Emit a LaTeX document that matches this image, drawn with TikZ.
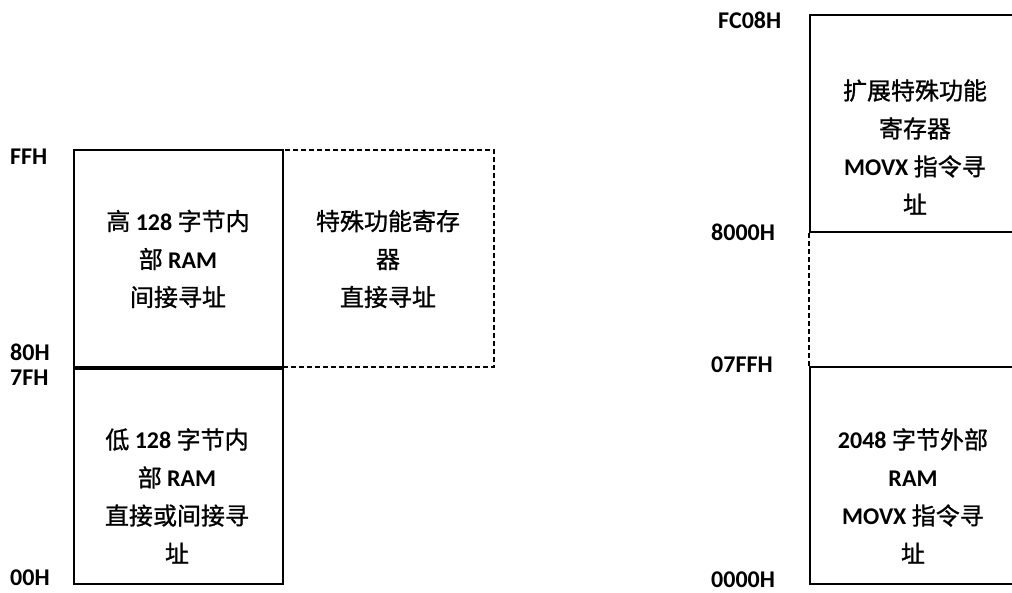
\documentclass[tikz,border=0pt]{standalone}
\usepackage{fontspec}
\setmainfont{Carlito}
\newfontfamily\cjk[RawFeature={embolden=1}]{Noto Sans CJK SC}
\newcommand\latb[1]{{\normalfont\bfseries #1}}
\begin{document}
\begin{tikzpicture}[x=1pt,y=-1pt,
  membox/.style={draw, line width=2pt, minimum width=209pt, minimum height=217pt, inner sep=0pt},
  dashbox/.style={draw, line width=1.8pt, dash pattern=on 5pt off 3pt, minimum width=211pt, minimum height=217pt, inner sep=0pt},
  txt/.style={align=center, inner sep=0pt, font=\cjk\fontsize{24}{38}\selectfont},
  addr/.style={anchor=west, inner sep=0pt, font=\bfseries\fontsize{24}{24}\selectfont}]
\useasboundingbox (0,0) rectangle (1012,592);
\clip (0,0) rectangle (1012,592);
% left column
\node[dashbox] (sfr) at (388.5,258.5) {};
\node[membox] (hi) at (178.5,258.5) {};
\node[membox] (lo) at (178.5,475.5) {};
\draw[line width=3pt] (hi.south west) -- (hi.south east);
\node[txt] (thi) at (178,259) {高 \latb{128} 字节内\\部 \latb{RAM}\\间接寻址};
\node[txt] (tlo) at (177,496) {低 \latb{128} 字节内\\部 \latb{RAM}\\直接或间接寻\\址};
\node[txt] (tsfr) at (388,259) {特殊功能寄存\\器\\直接寻址};
\node[addr] (aFF) at (10,157) {FFH};
\node[addr] (a80) at (10,352) {80H};
\node[addr] (a7F) at (10,378) {7FH};
\node[addr] (a00) at (10,578) {00H};
% right column
\node[membox, minimum width=210pt] (xsfr) at (915,123.5) {};
\node[membox, minimum width=210pt] (xram) at (915,475.5) {};
\draw[line width=1.8pt, dash pattern=on 5pt off 3pt] (xsfr.south west) -- (xram.north west);
\node[txt] (txsfr) at (915,147) {扩展特殊功能\\寄存器\\\latb{MOVX} 指令寻\\址};
\node[txt] (txram) at (913,496) {\latb{2048} 字节外部\\\latb{RAM}\\\latb{MOVX} 指令寻\\址};
\node[addr] (aFC08) at (718,20) {FC08H};
\node[addr] (a8000) at (711,232) {8000H};
\node[addr] (a07FF) at (711,365) {07FFH};
\node[addr] (a0000) at (711,580) {0000H};
\end{tikzpicture}
\end{document}
